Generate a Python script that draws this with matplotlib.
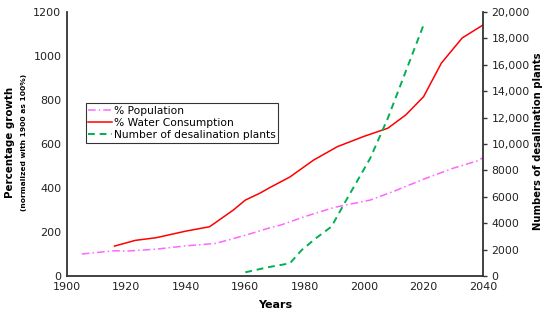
import numpy as np
import matplotlib.pyplot as plt
from matplotlib.ticker import FixedLocator, FixedFormatter

# Dados
anos_pop = [1905, 1916, 1920, 1930, 1940, 1950, 1960, 1968, 1972, 1980, 1990, 2002, 2010, 2020, 2030, 2038, 2040]
populacao = [100, 115, 113, 122, 137, 148, 185, 218, 232, 270, 312, 345, 385, 440, 490, 523, 538]

anos_agua = [1916, 1923, 1930, 1940, 1948, 1956, 1960, 1965, 1968, 1975, 1983, 1991, 2000, 2008, 2014, 2020, 2026, 2033, 2040]
agua = [136, 162, 174, 204, 224, 300, 345, 377, 400, 450, 527, 588, 635, 672, 732, 815, 968, 1082, 1141]

anos_dessal = [1960, 1968, 1975, 1979, 1984, 1989, 1994, 2002, 2008, 2014, 2020]
dessal = [280, 680, 960, 1970, 2900, 3740, 5760, 8900, 11970, 15500, 19020]

ticks_dir = [0, 2000, 4000, 6000, 8000, 10000, 12000, 14000, 16000, 18000, 20000]
labels_dir = ['0', '2000', '4000', '6000', '8000', '10,000', '12,000', '14,000', '16,000', '18,000', '20,000']

COR_POP = '#FF66FF'
COR_AGUA = '#FF0000'
COR_DESSAL = '#00B050'
COR_EIXO = '#333333'

fig = plt.figure(figsize=(5.5, 3.2), dpi=100)
ax = fig.add_axes([0.1218, 0.1375, 0.7564, 0.825])
ax2 = ax.twinx()

l1, = ax.plot(anos_pop, populacao, color=COR_POP, lw=1.1, dashes=(5, 2, 1, 2), label='% Population')
l2, = ax.plot(anos_agua, agua, color=COR_AGUA, lw=1.1, label='% Water Consumption')
l3, = ax2.plot(anos_dessal, dessal, color=COR_DESSAL, lw=1.4, dashes=(3.5, 2.5), label='Number of desalination plants')

ax.set_xlim(1900, 2040)
ax.set_ylim(0, 1200)
ax2.set_ylim(0, 20000)
ax.set_xticks(range(1900, 2041, 20))
ax.set_yticks(range(0, 1201, 200))
ax2.yaxis.set_major_locator(FixedLocator(ticks_dir))
ax2.yaxis.set_major_formatter(FixedFormatter(labels_dir))

for a in (ax, ax2):
    a.spines['top'].set_visible(False)
    for s in ('left', 'bottom', 'right'):
        a.spines[s].set_color(COR_EIXO)
        a.spines[s].set_linewidth(1.3)
ax.spines['right'].set_visible(False)
ax2.spines['left'].set_visible(False)
ax2.spines['bottom'].set_visible(False)

ax.tick_params(axis='both', length=0, labelsize=8, colors='#222222', pad=4)
ax2.tick_params(axis='y', length=3, width=1, labelsize=7.8, colors='#222222', pad=3)
ax2.tick_params(axis='y', color=COR_EIXO)

fig.text(0.5, 0.047, 'Years', ha='center', va='center', fontsize=8, fontweight='bold')
fig.text(0.018, 0.556, 'Percentage growth', rotation=90, ha='center', va='center', fontsize=7.4, fontweight='bold')
fig.text(0.043, 0.556, '(normalized with 1900 as 100%)', rotation=90, ha='center', va='center', fontsize=5.4, fontweight='bold')
fig.text(0.978, 0.56, 'Numbers of desalination plants', rotation=90, ha='center', va='center', fontsize=7.2, fontweight='bold')

leg = ax.legend(handles=[l1, l2, l3], loc='upper left', bbox_to_anchor=(0.045, 0.655), fontsize=7.7,
                frameon=True, fancybox=False, edgecolor='black', borderpad=0.25, labelspacing=0.2,
                handlelength=2.2, handletextpad=0.2, borderaxespad=0)
leg.get_frame().set_linewidth(0.8)

plt.savefig('out.png', dpi=100)
